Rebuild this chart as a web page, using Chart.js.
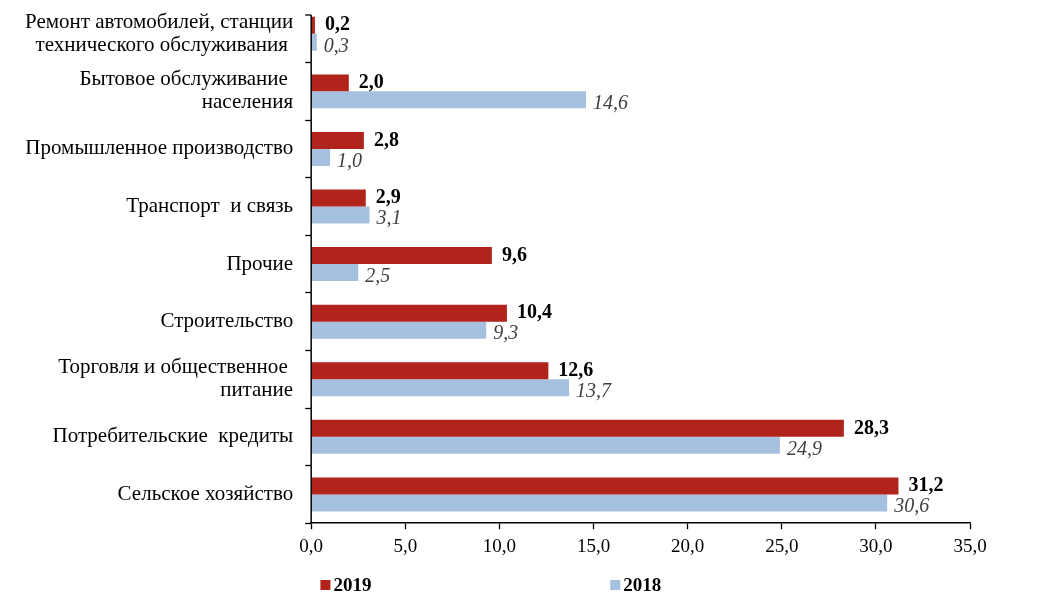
<!DOCTYPE html>
<html>
<head>
<meta charset="utf-8">
<script src="https://cdn.jsdelivr.net/npm/chart.js@4/dist/chart.umd.min.js"></script>
<style>
  html, body { margin: 0; padding: 0; background: #fff; }
  #wrap { width: 1047px; height: 615px; }
</style>
</head>
<body>
<div id="wrap"><canvas id="myChart"></canvas></div>
<script>
  var categories = [
    ["Ремонт автомобилей, станции", "технического обслуживания "],
    ["Бытовое обслуживание ", "населения"],
    "Промышленное производство",
    "Транспорт  и связь",
    "Прочие",
    "Строительство",
    ["Торговля и общественное ", "питание"],
    "Потребительские  кредиты",
    "Сельское хозяйство"
  ];
  var seriesNames = ["2019", "2018"];
  var values2019 = [0.2, 2.0, 2.8, 2.9, 9.6, 10.4, 12.6, 28.3, 31.2];
  var values2018 = [0.3, 14.6, 1.0, 3.1, 2.5, 9.3, 13.7, 24.9, 30.6];
  var xTicks = [0, 5, 10, 15, 20, 25, 30, 35];

  var serif = "'Liberation Serif', 'Times New Roman', serif";

  function fmt(v) {
    return v.toFixed(1).replace(".", ",");
  }

  // value labels next to each bar
  var barLabels = {
    id: "barLabels",
    afterDatasetsDraw: function (chart) {
      var ctx = chart.ctx;
      chart.data.datasets.forEach(function (ds, i) {
        var meta = chart.getDatasetMeta(i);
        ctx.save();
        ctx.font = ds.labelFont;
        ctx.fillStyle = ds.labelColor;
        ctx.textBaseline = "middle";
        ctx.textAlign = "left";
        meta.data.forEach(function (bar, j) {
          ctx.fillText(fmt(ds.data[j]), bar.x + ds.labelGap, bar.y + ds.labelShift);
        });
        ctx.restore();
      });
    }
  };

  // y axis line starts a bit below the plot top (top category is cut off, as in the original)
  var yAxisLine = {
    id: "yAxisLine",
    afterDraw: function (chart) {
      var ctx = chart.ctx;
      var area = chart.chartArea;
      var top = area.top + 10;
      ctx.save();
      ctx.strokeStyle = "#000";
      ctx.lineWidth = 1.5;
      ctx.beginPath();
      ctx.moveTo(area.left, top);
      ctx.lineTo(area.left, area.bottom);
      ctx.stroke();
      ctx.lineWidth = 1.3;
      ctx.beginPath();
      ctx.moveTo(area.left - 6, top);
      ctx.lineTo(area.left, top);
      ctx.stroke();
      ctx.restore();
    }
  };

  // legend under the axis, items spread apart like the original
  var bottomLegend = {
    id: "bottomLegend",
    afterDraw: function (chart) {
      var ctx = chart.ctx;
      var area = chart.chartArea;
      var y = chart.height - 30;
      var spots = [0.014, 0.454];
      ctx.save();
      ctx.font = "bold 19px " + serif;
      ctx.textBaseline = "middle";
      chart.data.datasets.forEach(function (ds, i) {
        var x = area.left + (area.right - area.left) * spots[i];
        ctx.fillStyle = ds.backgroundColor;
        ctx.fillRect(x, y - 5, 10, 10);
        ctx.fillStyle = "#000";
        ctx.fillText(ds.label, x + 13, y + 1);
      });
      ctx.restore();
    }
  };

  var ctx = document.getElementById("myChart").getContext("2d");
  var myChart = new Chart(ctx, {
    type: "bar",
    data: {
      labels: categories,
      datasets: [
        {
          label: seriesNames[0],
          data: values2019,
          backgroundColor: "#B0241C",
          labelFont: "bold 20px " + serif,
          labelColor: "#000",
          labelGap: 10,
          labelShift: 0
        },
        {
          label: seriesNames[1],
          data: values2018,
          backgroundColor: "#A6C0E0",
          labelFont: "italic 20px " + serif,
          labelColor: "#404040",
          labelGap: 7,
          labelShift: 4
        }
      ]
    },
    plugins: [barLabels, yAxisLine, bottomLegend],
    options: {
      indexAxis: "y",
      responsive: true,
      maintainAspectRatio: false,
      animation: false,
      categoryPercentage: 0.59,
      barPercentage: 1.0,
      layout: {
        padding: { left: 13, right: 77, top: 5, bottom: 51 }
      },
      plugins: {
        legend: { display: false },
        tooltip: { enabled: false }
      },
      scales: {
        x: {
          min: 0,
          max: 35,
          afterBuildTicks: function (axis) {
            axis.ticks = xTicks.map(function (v) { return { value: v }; });
          },
          grid: { drawOnChartArea: false, color: "#000", tickLength: 6, tickWidth: 1.3 },
          border: { color: "#000", width: 1.5 },
          ticks: {
            color: "#000",
            font: { family: serif, size: 19 },
            padding: 6,
            callback: function (v) { return fmt(v); }
          }
        },
        y: {
          afterFit: function (scale) {
            scale.paddingTop = 0;
            scale.paddingBottom = 0;
          },
          grid: {
            offset: true,
            drawOnChartArea: false,
            color: function (c) { return c.index === 0 ? "rgba(0,0,0,0)" : "#000"; },
            tickLength: 6,
            tickWidth: 1.3
          },
          border: { display: false },
          ticks: {
            color: "#000",
            font: { family: serif, size: 21, lineHeight: 1.1 },
            padding: 12
          }
        }
      }
    }
  });
</script>
</body>
</html>
